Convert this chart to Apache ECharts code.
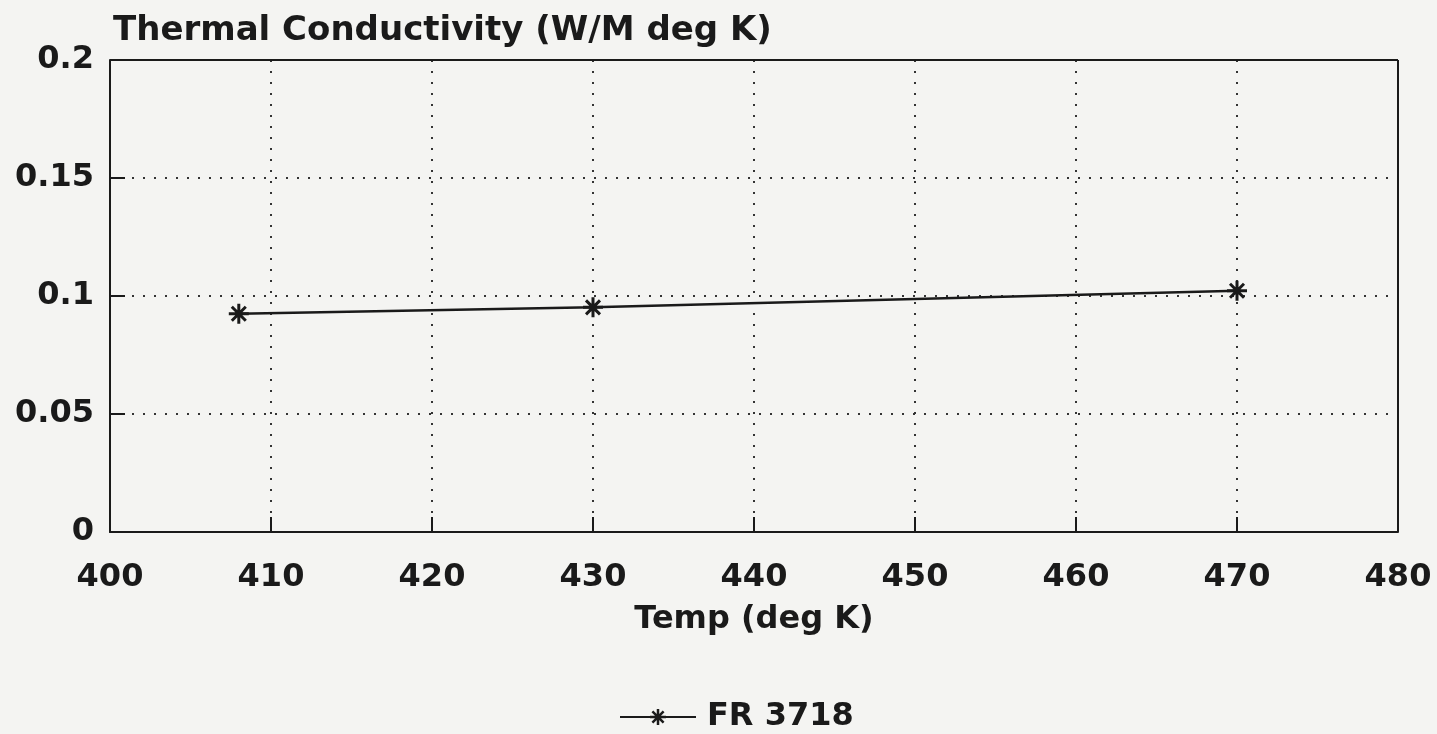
<!DOCTYPE html>
<html>
<head>
<meta charset="utf-8">
<script src="https://cdn.jsdelivr.net/npm/echarts@6/dist/echarts.min.js"></script>
<style>
  html, body { margin: 0; padding: 0; background: #f4f4f2; }
  #chart { width: 1437px; height: 734px; }
</style>
</head>
<body>
<div id="chart"></div>
<script>
  // values
  const temps = [408, 430, 470];
  const conductivity = [0.0925, 0.0952, 0.1022];
  const seriesName = 'FR 3718';

  const font = '"DejaVu Sans", "Liberation Sans", sans-serif';
  const ink = '#1a1a1a';
  const asterisk = 'path://M0,-10L0,10M-10,0L10,0M-7,-7L7,7M-7,7L7,-7';

  let chart = echarts.init(document.getElementById('chart'));
  chart.setOption({
    backgroundColor: '#f4f4f2',
    animation: false,
    title: {
      text: 'Thermal Conductivity (W/M deg K)',
      left: 108,
      top: 9,
      textStyle: { fontFamily: font, fontWeight: 'bold', fontSize: 34, color: ink }
    },
    legend: {
      left: 614,
      top: 696,
      itemWidth: 76,
      itemHeight: 20,
      itemStyle: { borderWidth: 2.5 },
      textStyle: { fontFamily: font, fontWeight: 'bold', fontSize: 32, color: ink, padding: [0, 0, 0, 6] },
      data: [seriesName]
    },
    grid: { left: 110, right: 39, top: 60, bottom: 202 },
    xAxis: {
      type: 'value',
      min: 400,
      max: 480,
      interval: 10,
      name: 'Temp (deg K)',
      nameLocation: 'middle',
      nameGap: 72,
      nameTextStyle: { fontFamily: font, fontWeight: 'bold', fontSize: 32, color: ink },
      axisLine: { show: true, lineStyle: { color: ink, width: 2 } },
      axisTick: { show: true, inside: true, length: 15, lineStyle: { color: ink, width: 2 } },
      axisLabel: { fontFamily: font, fontWeight: 'bold', fontSize: 32, color: ink, margin: 30 },
      splitLine: { show: true, lineStyle: { type: [2, 9], color: '#333', width: 2 } }
    },
    yAxis: {
      type: 'value',
      min: 0,
      max: 0.2,
      interval: 0.05,
      axisLine: { show: true, lineStyle: { color: ink, width: 2 } },
      axisTick: { show: true, inside: true, length: 15, lineStyle: { color: ink, width: 2 } },
      axisLabel: { fontFamily: font, fontWeight: 'bold', fontSize: 32, color: ink, margin: 16 },
      splitLine: { show: true, lineStyle: { type: [2, 9], color: '#333', width: 2 } }
    },
    series: [
      {
        name: seriesName,
        type: 'line',
        data: temps.map((t, i) => [t, conductivity[i]]),
        symbol: asterisk,
        symbolSize: 20,
        lineStyle: { color: ink, width: 2.5 },
        itemStyle: { color: 'none', borderColor: ink, borderWidth: 3 }
      },
      {
        // closes the frame on top and right
        type: 'line',
        data: [],
        markLine: {
          silent: true,
          symbol: 'none',
          label: { show: false },
          lineStyle: { type: 'solid', color: ink, width: 2 },
          data: [
            [{ coord: [400, 0.2] }, { coord: [480, 0.2] }],
            [{ coord: [480, 0] }, { coord: [480, 0.2] }]
          ]
        }
      }
    ]
  });
</script>
</body>
</html>
